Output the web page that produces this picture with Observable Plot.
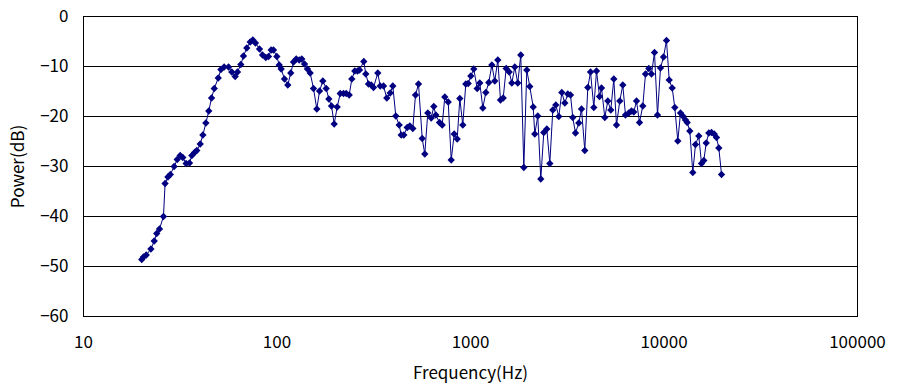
<!DOCTYPE html>
<html>
<head>
<meta charset="utf-8">
<script src="https://cdn.jsdelivr.net/npm/d3@7"></script>
<script src="https://cdn.jsdelivr.net/npm/@observablehq/plot@0.6"></script>
<style>
  html, body { margin: 0; padding: 0; background: #fff; }
  #chart { width: 897px; height: 389px; }
</style>
</head>
<body>
<div id="chart"></div>
<script>
// Frequency (Hz) of each measured point
const freqs = [
  20, 20.4, 21.1, 22.3, 23.2, 23.9, 24.7, 25.9, 26.4, 27.3,
  28.1, 29.4, 30.5, 31.6, 32.6, 33.9, 35.3, 36.3, 37.5, 38.5,
  40.1, 41.4, 42.9, 44.4, 45.9, 47.4, 49.7, 51.3, 53.3, 56.2,
  58.4, 60.8, 62.5, 65.0, 67.1, 69.8, 72.7, 75.0, 77.4, 81.2,
  84.2, 87.5, 90.4, 93.3, 95.9, 99.8, 102.7, 105.1, 109.3, 113.7,
  117.8, 121.7, 125.7, 130.2, 134.3, 138.7, 143.7, 148.4, 154.4, 160.6,
  165.9, 172.5, 179.6, 185.3, 191.3, 197.5, 204.7, 212.2, 220.7, 227.9,
  236.1, 243.6, 252.4, 260.6, 266.9, 280.9, 287.7, 297.1, 306.8, 315.3,
  331.8, 341.4, 355.1, 369.3, 384.6, 396.7, 411.1, 428.1, 438.5, 452.3,
  470.9, 485.7, 503.3, 519.8, 538.7, 562.9, 580.5, 601.6, 626.5, 646.2,
  661.8, 691.6, 714.1, 736.6, 767.1, 795.0, 823.8, 853.7, 880.5, 912.4,
  945.5, 972.9, 1004, 1040, 1083, 1117, 1158, 1200, 1243, 1289,
  1335, 1384, 1429, 1476, 1529, 1585, 1635, 1694, 1755, 1819,
  1886, 1954, 2025, 2109, 2149, 2227, 2308, 2392, 2480, 2570,
  2663, 2760, 2860, 2964, 3072, 3183, 3287, 3378, 3488, 3628,
  3747, 3896, 4039, 4171, 4338, 4479, 4642, 4754, 4944, 5124,
  5310, 5503, 5683, 5909, 6124, 6324, 6577, 6792, 6981, 7210,
  7471, 7770, 8024, 8345, 8617, 8930, 9256, 9592, 9940, 10301,
  10639, 11025, 11372, 11785, 12171, 12510, 12917, 13182, 13596, 14087,
  14548, 15129, 15625, 16060, 16525, 17045, 17602, 18174, 18679, 19199,
  19828
];
// Power (dB) at each frequency
const power = [
  -48.6, -48.1, -47.7, -46.5, -44.9, -43.4, -42.5, -40.0, -33.4, -32.1,
  -31.6, -30.0, -28.6, -27.8, -28.2, -29.4, -29.3, -27.8, -27.2, -26.8,
  -25.5, -23.7, -21.3, -18.9, -16.3, -14.4, -12.3, -10.6, -10.1, -10.1,
  -11.1, -12.0, -11.1, -9.6, -7.9, -6.3, -5.1, -4.7, -5.3, -6.5,
  -7.7, -8.2, -8.0, -6.7, -6.7, -8.0, -9.7, -10.5, -12.5, -13.7,
  -11.3, -9.1, -8.5, -8.7, -8.5, -9.5, -10.5, -11.3, -14.4, -18.5,
  -14.9, -12.9, -14.4, -16.5, -17.9, -21.5, -18.1, -15.4, -15.4, -15.4,
  -15.7, -12.5, -10.9, -10.9, -10.7, -9.0, -11.5, -13.5, -13.7, -14.2,
  -11.3, -13.9, -13.9, -16.3, -15.3, -13.9, -19.9, -21.7, -23.7, -23.7,
  -22.2, -21.9, -22.4, -15.7, -13.5, -24.4, -27.5, -19.3, -20.3, -18.0,
  -19.7, -21.2, -21.7, -16.1, -17.1, -28.7, -23.5, -24.5, -16.4, -21.7,
  -13.5, -13.4, -11.9, -10.5, -14.4, -13.3, -18.3, -15.2, -13.2, -9.7,
  -12.9, -8.7, -16.7, -16.3, -10.4, -11.1, -13.3, -10.1, -13.3, -7.7,
  -30.2, -10.7, -14.0, -18.1, -23.5, -19.9, -32.5, -23.2, -22.5, -29.4,
  -18.7, -17.7, -20.0, -15.2, -17.3, -15.5, -15.7, -20.2, -23.3, -21.3,
  -18.5, -26.8, -14.2, -11.1, -18.2, -10.9, -16.0, -14.3, -20.2, -16.9,
  -18.7, -12.5, -21.7, -16.9, -13.7, -19.7, -19.3, -18.9, -19.1, -16.9,
  -21.2, -17.9, -11.5, -10.4, -11.5, -7.2, -19.7, -10.3, -8.1, -4.8,
  -12.7, -14.3, -18.2, -24.9, -19.3, -19.9, -20.7, -21.2, -22.9, -31.2,
  -25.6, -23.9, -29.4, -28.8, -25.3, -23.3, -23.2, -23.5, -24.2, -26.3,
  -31.6
];
const xTicks = [10, 100, 1000, 10000, 100000];
const yTicks = [-60, -50, -40, -30, -20, -10, 0];

const data = freqs.map((f, i) => ({ f, p: power[i] }));
const navy = "#000080";

const chart = Plot.plot({
  width: 897,
  height: 389,
  marginLeft: 83,
  marginRight: 40,
  marginTop: 16,
  marginBottom: 73,
  style: {
    fontFamily: "'Noto Sans CJK JP', 'DejaVu Sans', sans-serif",
    fontSize: "17px",
    color: "#000",
    background: "#fff",
    overflow: "visible"
  },
  x: { type: "log", domain: [10, 100000] },
  y: { domain: [-60, 0] },
  marks: [
    Plot.gridY(yTicks, { stroke: "#000", strokeOpacity: 1, strokeWidth: 1 }),
    Plot.frame({ stroke: "#000", strokeWidth: 1 }),
    Plot.axisX(xTicks, {
      tickSize: 0,
      tickPadding: 19,
      tickFormat: d => String(d),
      label: "Frequency(Hz)",
      labelAnchor: "center",
      labelArrow: "none",
      labelOffset: 62
    }),
    Plot.axisY(yTicks, {
      tickSize: 0,
      tickPadding: 15,
      tickFormat: d => d < 0 ? "\u2212" + Math.abs(d) : String(d),
      label: "Power(dB)",
      labelAnchor: "center",
      labelArrow: "none",
      labelOffset: 72
    }),
    Plot.line(data, { x: "f", y: "p", stroke: navy, strokeWidth: 1 }),
    Plot.dot(data, { x: "f", y: "p", symbol: "diamond2", r: 3.3, fill: navy, stroke: "none" })
  ]
});
document.getElementById("chart").appendChild(chart);
</script>
</body>
</html>
